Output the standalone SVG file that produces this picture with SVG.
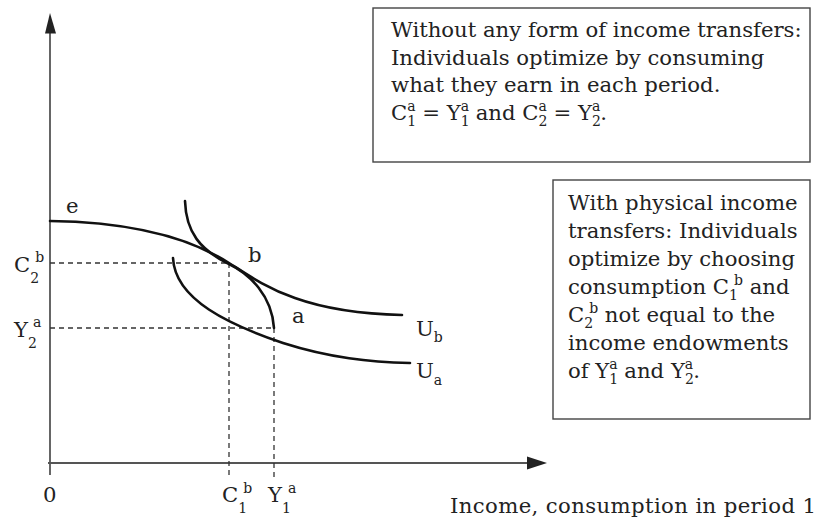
<svg xmlns="http://www.w3.org/2000/svg" width="818" height="520" viewBox="0 0 818 520">
<style>
.t{font-family:"DejaVu Serif","Liberation Serif",serif;font-size:21.2px;fill:#222}
.s{font-size:14px}
.ax{stroke:#555;stroke-width:1.8;fill:none}
.dash{stroke:#333;stroke-width:1.3;stroke-dasharray:5 4;fill:none}
.cv{stroke:#111;stroke-width:2.6;fill:none;stroke-linecap:round}
.box{fill:#fff;stroke:#444;stroke-width:1.4}
</style>
<rect width="818" height="520" fill="#fff"/>
<g id="connectors">
<line class="ax" x1="50" y1="30" x2="50" y2="475"/>
<polygon points="50,13 45,33.5 56,33.5" fill="#222"/>
<line class="ax" x1="48" y1="463" x2="530" y2="463"/>
<polygon points="547,463 527,456.5 527,469.5" fill="#222"/>
<line class="dash" x1="50" y1="263" x2="229" y2="263"/>
<line class="dash" x1="50" y1="328" x2="274" y2="328"/>
<line class="dash" x1="229" y1="263" x2="229" y2="477"/>
<line class="dash" x1="274" y1="328" x2="274" y2="477"/>
<path class="cv" d="M50,221 C130,222 190,238 229,263 C262,284 300,313 402,315"/>
<path class="cv" d="M185,201 C186,232 200,250 229,264 C250,274 272,296 274,328"/>
<path class="cv" d="M173,258 C175,300 230,325 283,343 C330,358 370,362 410,363"/>
</g>
<g id="labels">
<text class="t" x="66" y="213">e</text>
<text class="t" x="248" y="262">b</text>
<text class="t" x="292" y="323">a</text>
<text class="t" x="416" y="336">U<tspan class="s" dy="6">b</tspan></text>
<text class="t" x="416" y="378">U<tspan class="s" dy="7">a</tspan></text>
<text class="t" x="14" y="272">C<tspan class="s" dy="11">2</tspan><tspan class="s" dx="-4" dy="-21">b</tspan></text>
<text class="t" x="14" y="337">Y<tspan class="s" dy="11">2</tspan><tspan class="s" dx="-4" dy="-21">a</tspan></text>
<text class="t" x="43" y="502">0</text>
<text class="t" x="222" y="502">C<tspan class="s" dy="11">1</tspan><tspan class="s" dx="-4" dy="-20">b</tspan></text>
<text class="t" x="268" y="502">Y<tspan class="s" dy="11">1</tspan><tspan class="s" dx="-3" dy="-20">a</tspan></text>
<text class="t" x="450" y="513" textLength="366" lengthAdjust="spacing">Income, consumption in period 1</text>
</g>
<g id="box1">
<rect class="box" x="373" y="8" width="437" height="154"/>
<text class="t" x="391" y="37">Without any form of income transfers:</text>
<text class="t" x="391" y="65">Individuals optimize by consuming</text>
<text class="t" x="391" y="92">what they earn in each period.</text>
<text class="t" x="391" y="120">C<tspan class="s" dy="6">1</tspan><tspan class="s" dx="-9" dy="-15">a</tspan><tspan dy="9"> = Y</tspan><tspan class="s" dy="6">1</tspan><tspan class="s" dx="-9" dy="-15">a</tspan><tspan dy="9"> and C</tspan><tspan class="s" dy="6">2</tspan><tspan class="s" dx="-9" dy="-15">a</tspan><tspan dy="9"> = Y</tspan><tspan class="s" dy="6">2</tspan><tspan class="s" dx="-9" dy="-15">a</tspan><tspan dy="9">.</tspan></text>
</g>
<g id="box2">
<rect class="box" x="553" y="180" width="257" height="239"/>
<text class="t" x="568" y="210">With physical income</text>
<text class="t" x="568" y="238">transfers: Individuals</text>
<text class="t" x="568" y="266">optimize by choosing</text>
<text class="t" x="568" y="294">consumption C<tspan class="s" dy="6">1</tspan><tspan class="s" dx="-4" dy="-15">b</tspan><tspan dy="9"> and</tspan></text>
<text class="t" x="568" y="322">C<tspan class="s" dy="6">2</tspan><tspan class="s" dx="-4" dy="-15">b</tspan><tspan dy="9"> not equal to the</tspan></text>
<text class="t" x="568" y="350">income endowments</text>
<text class="t" x="568" y="378">of Y<tspan class="s" dy="6">1</tspan><tspan class="s" dx="-9" dy="-15">a</tspan><tspan dy="9"> and Y</tspan><tspan class="s" dy="6">2</tspan><tspan class="s" dx="-9" dy="-15">a</tspan><tspan dy="9">.</tspan></text>
</g>
</svg>
